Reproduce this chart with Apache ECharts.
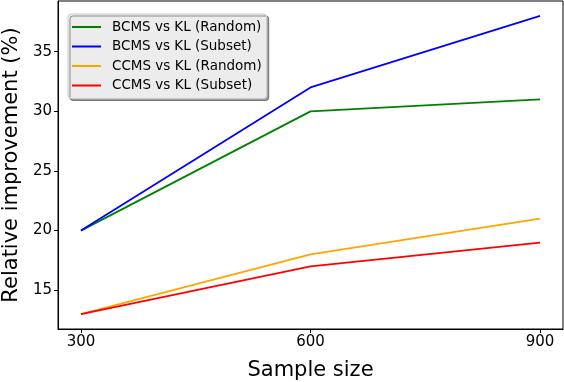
<!DOCTYPE html>
<html>
<head>
<meta charset="utf-8">
<script src="https://cdn.jsdelivr.net/npm/echarts@6/dist/echarts.min.js"></script>
<style>
html, body { margin: 0; padding: 0; background: #fff; }
#main { width: 564px; height: 382px; }
</style>
</head>
<body>
<div id="main"></div>
<script>
var sampleSizes = [300, 600, 900];
var bcmsRandom = [20, 30, 31];
var bcmsSubset = [20, 32, 38];
var ccmsRandom = [13, 18, 21];
var ccmsSubset = [13, 17, 19];
var xTicks = [300, 600, 900];
var yTicks = [15, 20, 25, 30, 35];

function pairs(ys) {
	var out = [];
	for (var i = 0; i < sampleSizes.length; i++) {
		out.push([sampleSizes[i], ys[i]]);
	}
	return out;
}

function makeLine(name, color, ys) {
	return {
		name: name,
		type: 'line',
		data: pairs(ys),
		symbol: 'none',
		lineStyle: { color: color, width: 1.8 },
		itemStyle: { color: color },
		animation: false
	};
}

var font = 'DejaVu Sans';
var myChart = echarts.init(document.getElementById('main'));
var option = {
	animation: false,
	textStyle: { fontFamily: font },
	grid: {
		left: 58, right: 1, top: 1, bottom: 53,
		containLabel: false,
		outerBoundsMode: 'none',
		show: true, borderColor: '#000', borderWidth: 1
	},
	legend: {
		orient: 'vertical',
		left: 68, top: 14,
		padding: [6, 5, 6, 4],
		itemWidth: 29,
		itemHeight: 2,
		itemGap: 5.5,
		icon: 'rect',
		backgroundColor: '#ececec',
		borderColor: '#cccccc',
		borderWidth: 1,
		borderRadius: 3,
		shadowColor: 'rgba(0,0,0,0.4)',
		shadowOffsetX: 2,
		shadowOffsetY: 2,
		shadowBlur: 0,
		textStyle: { fontFamily: font, fontSize: 13.5, color: '#000', lineHeight: 14, padding: [0, 0, 0, 6] },
		data: ['BCMS vs KL (Random)', 'BCMS vs KL (Subset)', 'CCMS vs KL (Random)', 'CCMS vs KL (Subset)']
	},
	xAxis: {
		type: 'value',
		min: 270, max: 930,
		name: 'Sample size',
		nameLocation: 'middle',
		nameGap: 31,
		nameTextStyle: { fontFamily: font, fontSize: 21, color: '#000' },
		splitLine: { show: false },
		axisLine: { show: true, lineStyle: { color: '#000', width: 1 } },
		axisTick: { show: true, length: 4, lineStyle: { color: '#000' }, customValues: xTicks },
		axisLabel: { fontFamily: font, fontSize: 15, color: '#000', margin: 6, customValues: xTicks }
	},
	yAxis: {
		type: 'value',
		min: 11.75, max: 39.25,
		name: 'Relative improvement (%)',
		nameLocation: 'middle',
		nameGap: 30,
		nameTextStyle: { fontFamily: font, fontSize: 21, color: '#000' },
		splitLine: { show: false },
		axisLine: { show: true, lineStyle: { color: '#000', width: 1 } },
		axisTick: { show: true, length: 4, lineStyle: { color: '#000' }, customValues: yTicks },
		axisLabel: { fontFamily: font, fontSize: 15, color: '#000', margin: 6, customValues: yTicks }
	},
	series: [
		makeLine('BCMS vs KL (Random)', '#008000', bcmsRandom),
		makeLine('BCMS vs KL (Subset)', '#0000ff', bcmsSubset),
		makeLine('CCMS vs KL (Random)', '#ffa500', ccmsRandom),
		makeLine('CCMS vs KL (Subset)', '#ff0000', ccmsSubset)
	]
};
myChart.setOption(option);
</script>
</body>
</html>
